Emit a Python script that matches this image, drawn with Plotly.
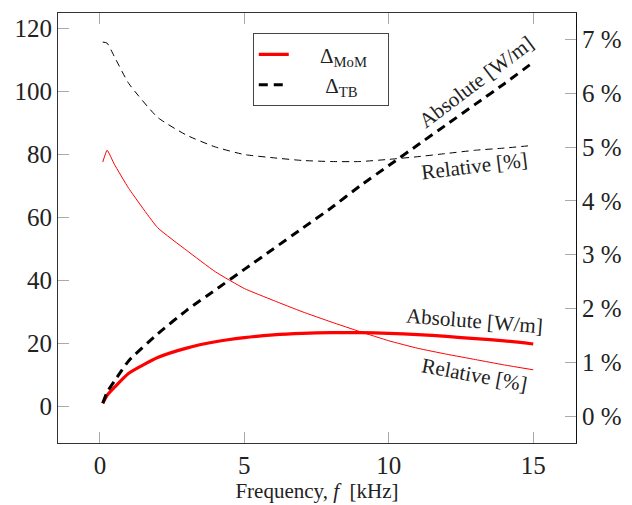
import plotly.graph_objects as go

freq = [0.1, 0.25, 0.5, 1, 2, 3, 4, 5, 6, 7, 8, 9, 10, 11, 12, 13, 14, 15]
abs_mom = [1.0, 3.5, 6.0, 10.5, 15.5, 18.5, 20.5, 21.8, 22.7, 23.2, 23.4, 23.4, 23.2, 22.8, 22.2, 21.5, 20.8, 19.8]
abs_tb = [1.0, 4.5, 8.0, 14.5, 23.0, 30.5, 37.0, 43.5, 50.0, 56.5, 63.0, 70.0, 76.5, 83.0, 89.5, 96.0, 102.5, 109.3]
rel_mom = [4.72, 4.94, 4.68, 4.23, 3.50, 3.08, 2.68, 2.37, 2.15, 1.94, 1.75, 1.57, 1.40, 1.26, 1.15, 1.05, 0.95, 0.86]
rel_tb = [6.95, 6.93, 6.68, 6.18, 5.55, 5.22, 5.00, 4.86, 4.80, 4.75, 4.73, 4.73, 4.77, 4.82, 4.88, 4.94, 4.98, 5.03]

x_ticks = [0, 5, 10, 15]
y_ticks = [0, 20, 40, 60, 80, 100, 120]
y2_ticks = [0, 1, 2, 3, 4, 5, 6, 7]
y2_labels = [f"{v} %" for v in y2_ticks]

FONT = "Times New Roman, Liberation Serif, DejaVu Serif, serif"
NB = "\u00a0"

fig = go.Figure()
fig.add_trace(go.Scatter(x=freq, y=rel_mom, mode="lines", yaxis="y2",
                         line=dict(color="red", width=1, shape="spline", smoothing=0.4), showlegend=False))
fig.add_trace(go.Scatter(x=freq, y=rel_tb, mode="lines", yaxis="y2",
                         line=dict(color="black", width=1, dash="7px,5px", shape="spline", smoothing=0.5),
                         showlegend=False))
fig.add_trace(go.Scatter(x=freq, y=abs_mom, mode="lines", name=NB * 5 + "Δ<sub>MoM</sub>" + NB * 3,
                         line=dict(color="red", width=3.2, shape="spline", smoothing=0.5)))
fig.add_trace(go.Scatter(x=freq, y=abs_tb, mode="lines", name=NB * 6 + "Δ<sub>TB</sub>",
                         line=dict(color="black", width=3, dash="9px,6px", shape="spline", smoothing=0.5)))

anns = [
    ("Absolute [W/m]", 13.03, 102.9, -37),
    ("Relative [%]", 12.98, 76.5, -7),
    ("Absolute [W/m]", 12.98, 27.1, 4.5),
    ("Relative [%]", 12.98, 9.8, 10.5),
]
for txt, ax_, ay_, ang in anns:
    fig.add_annotation(x=ax_, y=ay_, xref="x", yref="y", text=txt, showarrow=False,
                       textangle=ang, font=dict(family=FONT, size=21, color="#222"))

fig.update_layout(
    width=632, height=505,
    margin=dict(l=58, r=56, t=13, b=62, autoexpand=False),
    plot_bgcolor="white", paper_bgcolor="white",
    font=dict(family=FONT, size=25, color="#222"),
    xaxis=dict(range=[-1.45, 16.48], tickvals=x_ticks, ticks="inside", ticklen=11,
               tickcolor="#aaa", showline=True, linecolor="#333", mirror="ticks",
               showgrid=False, zeroline=False, automargin=False,
               title=dict(text="Frequency, <i>f</i>  [kHz]", font=dict(size=21), standoff=4)),
    yaxis=dict(range=[-11.65, 124.95], tickvals=y_ticks, ticks="inside", ticklen=11,
               tickcolor="#aaa", showline=True, linecolor="#333", showgrid=False,
               zeroline=False, automargin=False),
    yaxis2=dict(range=[-0.50, 7.49], tickvals=y2_ticks, ticktext=y2_labels, ticks="inside",
                ticklen=11, tickcolor="#aaa", showline=True, linecolor="#111",
                overlaying="y", side="right", showgrid=False, zeroline=False, automargin=False),
    legend=dict(x=0.376, y=0.953, xanchor="left", yanchor="top", bgcolor="white",
                bordercolor="#444", borderwidth=1, font=dict(size=21)),
)

fig.write_html("out.html")
